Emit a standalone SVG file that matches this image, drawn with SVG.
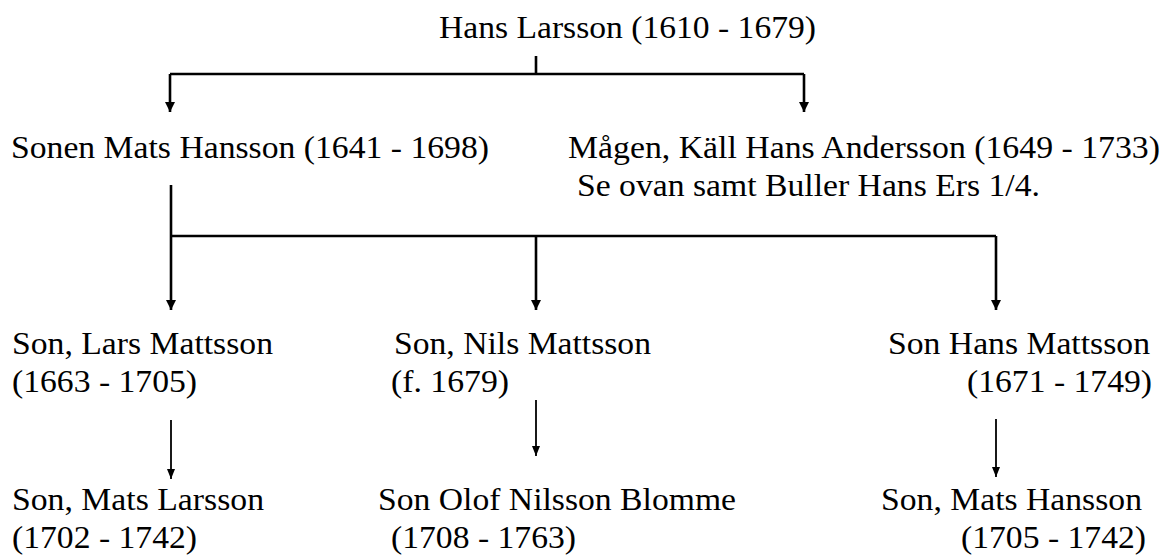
<svg xmlns="http://www.w3.org/2000/svg" width="1170" height="556" viewBox="0 0 1170 556">
<style>
text{font-family:"Liberation Serif","Times New Roman",serif;font-size:31px;fill:#000}
.c{stroke:#000;stroke-width:2.6;fill:none}
.t{stroke:#000;stroke-width:1.8;fill:none}
</style>
<defs>
<marker id="ad" markerUnits="userSpaceOnUse" markerWidth="12" markerHeight="12" viewBox="0 0 12 12" refX="6" refY="11" orient="0">
<path d="M1,1 L11,1 L6,11 Z" fill="#000"/>
</marker>
<marker id="as" markerUnits="userSpaceOnUse" markerWidth="10" markerHeight="12" viewBox="0 0 10 12" refX="5" refY="11" orient="0">
<path d="M1,1 L9,1 L5,11 Z" fill="#000"/>
</marker>
</defs>
<rect width="1170" height="556" fill="#fff"/>
<g id="connectors">
<path class="c" d="M536,56 V74 M170,74 H804"/>
<path class="c" d="M170,74 V112" marker-end="url(#ad)"/>
<path class="c" d="M804,74 V112" marker-end="url(#ad)"/>
<path class="c" d="M171,236 H996"/>
<path class="c" d="M171,185 V310" marker-end="url(#ad)"/>
<path class="c" d="M536,236 V310" marker-end="url(#ad)"/>
<path class="c" d="M996,236 V310" marker-end="url(#ad)"/>
<path class="t" d="M171,420 V479" marker-end="url(#as)"/>
<path class="t" d="M536,400 V456" marker-end="url(#as)"/>
<path class="t" d="M996,419 V477" marker-end="url(#as)"/>
</g>
<g id="hans-larsson"><text x="439" y="38" textLength="377" lengthAdjust="spacingAndGlyphs">Hans Larsson (1610 - 1679)</text></g>
<g id="mats-hansson"><text x="11" y="158" textLength="478" lengthAdjust="spacingAndGlyphs">Sonen Mats Hansson (1641 - 1698)</text></g>
<g id="kall-hans-andersson">
<text x="568" y="158" textLength="592" lengthAdjust="spacingAndGlyphs">Mågen, Käll Hans Andersson (1649 - 1733)</text>
<text x="577" y="196" textLength="463" lengthAdjust="spacingAndGlyphs">Se ovan samt Buller Hans Ers 1/4.</text>
</g>
<g id="lars-mattsson">
<text x="12" y="354" textLength="261" lengthAdjust="spacingAndGlyphs">Son, Lars Mattsson</text>
<text x="12" y="392" textLength="185" lengthAdjust="spacingAndGlyphs">(1663 - 1705)</text>
</g>
<g id="nils-mattsson">
<text x="394" y="354" textLength="257" lengthAdjust="spacingAndGlyphs">Son, Nils Mattsson</text>
<text x="391" y="392" textLength="118" lengthAdjust="spacingAndGlyphs">(f. 1679)</text>
</g>
<g id="hans-mattsson">
<text x="888" y="354" textLength="262" lengthAdjust="spacingAndGlyphs">Son Hans Mattsson</text>
<text x="967" y="392" textLength="185" lengthAdjust="spacingAndGlyphs">(1671 - 1749)</text>
</g>
<g id="mats-larsson">
<text x="12" y="510" textLength="252" lengthAdjust="spacingAndGlyphs">Son, Mats Larsson</text>
<text x="12" y="548" textLength="185" lengthAdjust="spacingAndGlyphs">(1702 - 1742)</text>
</g>
<g id="olof-nilsson-blomme">
<text x="378" y="510" textLength="358" lengthAdjust="spacingAndGlyphs">Son Olof Nilsson Blomme</text>
<text x="391" y="548" textLength="185" lengthAdjust="spacingAndGlyphs">(1708 - 1763)</text>
</g>
<g id="mats-hansson-2">
<text x="881" y="510" textLength="261" lengthAdjust="spacingAndGlyphs">Son, Mats Hansson</text>
<text x="961" y="548" textLength="185" lengthAdjust="spacingAndGlyphs">(1705 - 1742)</text>
</g>
</svg>
